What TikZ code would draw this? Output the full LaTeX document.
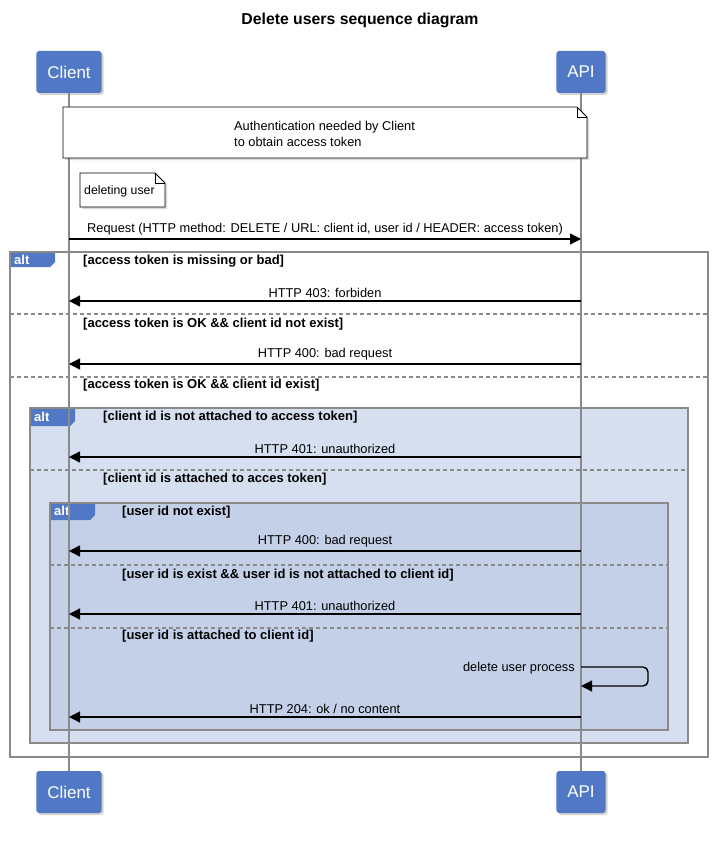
\documentclass[tikz,border=0pt]{standalone}
\usepackage{fontspec}
\setmainfont{Liberation Sans}
\usetikzlibrary{arrows.meta,shadows}
\definecolor{partblue}{HTML}{5078C4}
\definecolor{altone}{HTML}{D6DFEF}
\definecolor{alttwo}{HTML}{C3D0E8}
\definecolor{framegray}{HTML}{8A8A8A}
\begin{document}
\begin{tikzpicture}[x=1pt,y=-1pt,
  part node/.style={rectangle,rounded corners=3pt,fill=partblue,text=white,minimum height=42pt,inner xsep=11pt,
    font=\fontsize{17}{19}\selectfont,drop shadow={opacity=0.35,shadow xshift=2pt,shadow yshift=-2pt}},
  lifeline/.style={framegray,line width=1.6pt},
  msg/.style={line width=1.4pt,-{Triangle[length=11pt,width=11pt]}},
  lbl/.style={font=\fontsize{12.8}{14}\selectfont,inner sep=1pt,above=2pt},
  guard/.style={font=\bfseries\fontsize{13}{15}\selectfont,anchor=west,inner sep=0pt},
  frame/.style={draw=framegray,line width=1.5pt},
  sep/.style={framegray,line width=1.2pt,dash pattern=on 4pt off 3pt},
  tab/.style={fill=partblue},
  tab text/.style={text=white,font=\bfseries\fontsize{13}{15}\selectfont,anchor=west,inner sep=0pt},
  note/.style={draw=black,fill=white,line width=0.8pt,drop shadow={opacity=0.3,shadow xshift=2pt,shadow yshift=-2pt}},
  note text/.style={font=\fontsize{12.8}{16}\selectfont,align=left,anchor=west,inner sep=0pt}]
  \useasboundingbox (0,0) rectangle (719,848);
  % TITLE
  \node[font=\bfseries\fontsize{15.8}{18}\selectfont] (title) at (360,20) {Delete users sequence diagram};
  % FRAMES
  \draw[frame,fill=white] (10,252) rectangle (708,757);
  \fill[tab] (11,253) -- (55,253) -- (55,262) -- (50,267) -- (11,267) -- cycle;
  \node[tab text] (alt1) at (14,260) {alt};
  \draw[frame,fill=altone] (30,408) rectangle (688,743);
  \fill[tab] (31,409) -- (75,409) -- (75,421) -- (70,426) -- (31,426) -- cycle;
  \node[tab text] (alt2) at (34,417) {alt};
  \draw[frame,fill=alttwo] (50,503) rectangle (668,730);
  \fill[tab] (51,504) -- (95,504) -- (95,515) -- (90,520) -- (51,520) -- cycle;
  \node[tab text] (alt3) at (54,511) {alt};
  \draw[sep] (10,314) -- (708,314);
  \draw[sep] (10,377) -- (708,377);
  \draw[sep] (30,470) -- (688,470);
  \draw[sep] (50,565) -- (668,565);
  \draw[sep] (50,628) -- (668,628);
  % GUARDS
  \node[guard] (g1) at (83,261) {[access token is missing or bad]};
  \node[guard] (g2) at (83,324) {[access token is OK \&\& client id not exist]};
  \node[guard] (g3) at (83,385) {[access token is OK \&\& client id exist]};
  \node[guard] (g4) at (103,417) {[client id is not attached to access token]};
  \node[guard] (g5) at (103,479) {[client id is attached to acces token]};
  \node[guard] (g6) at (122,512) {[user id not exist]};
  \node[guard] (g7) at (122,575) {[user id is exist \&\& user id is not attached to client id]};
  \node[guard] (g8) at (122,636) {[user id is attached to client id]};
  % NODES
  \node[part node] (clientTop) at (69,72) {Client};
  \node[part node] (apiTop) at (581,72) {API};
  \node[part node] (clientBot) at (69,792) {Client};
  \node[part node] (apiBot) at (581,792) {API};
  \draw[lifeline] (clientTop) -- (clientBot);
  \draw[lifeline] (apiTop) -- (apiBot);
  % NOTES
  \draw[note] (63,107) -- (577,107) -- (587,117) -- (587,158) -- (63,158) -- cycle;
  \draw[line width=0.8pt] (577,107) -- (577,117) -- (587,117);
  \node[note text] (auth) at (234,134) {Authentication needed by Client\\to obtain access token};
  \draw[note] (80,173) -- (155,173) -- (165,183) -- (165,207) -- (80,207) -- cycle;
  \draw[line width=0.8pt] (155,173) -- (155,183) -- (165,183);
  \node[note text,font=\fontsize{12.3}{15}\selectfont] (deleting) at (84,191) {deleting user};
  % PATHS
  \foreach \n/\y in {req/239,f403/301,b400/364,u401/457,bb400/551,uu401/614,loop/667,back/686,ok204/717}{
    \coordinate (c\n) at (69,\y);
    \coordinate (a\n) at (581,\y);
  }
  \path[msg] (creq) edge node[lbl] {Request (HTTP method: DELETE / URL: client id, user id / HEADER: access token)} (areq);
  \path[msg]
   (af403) edge node[lbl] {HTTP 403: forbiden} (cf403)
   (ab400) edge node[lbl] {HTTP 400: bad request} (cb400)
   (au401) edge node[lbl] {HTTP 401: unauthorized} (cu401)
   (abb400) edge node[lbl] {HTTP 400: bad request} (cbb400)
   (auu401) edge node[lbl] {HTTP 401: unauthorized} (cuu401)
   (aok204) edge node[lbl] {HTTP 204: ok / no content} (cok204);
  \draw[msg,rounded corners=5pt] (aloop) -- ++(67,0) -- ++(0,19) -- (aback);
  \node[font=\fontsize{12.8}{14}\selectfont,anchor=east,inner sep=0pt] (process) at (575,668) {delete user process};
\end{tikzpicture}
\end{document}
